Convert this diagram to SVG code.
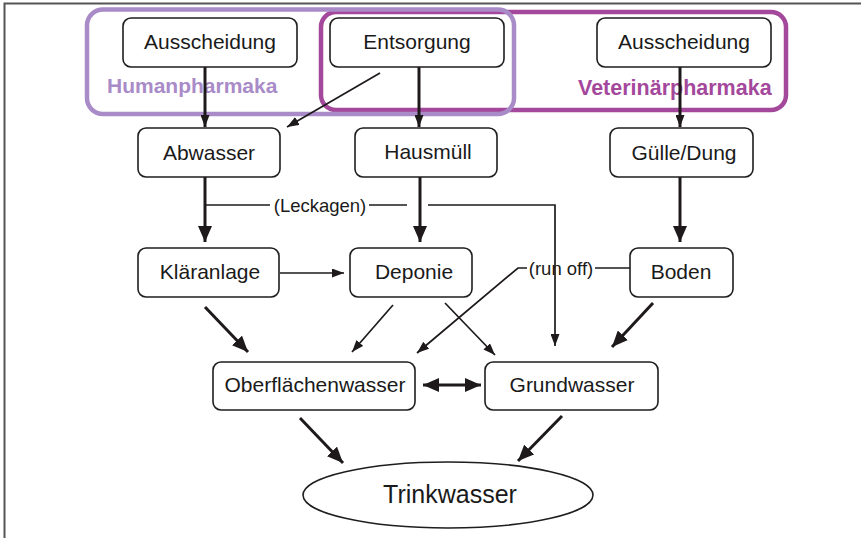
<svg xmlns="http://www.w3.org/2000/svg" width="861" height="538" viewBox="0 0 861 538">
  <style>
    .node rect, .node ellipse { fill: #ffffff; stroke: #1e1e1e; stroke-width: 1.6; }
    .node text { font-family: "Liberation Sans", Arial, sans-serif; font-size: 21px; fill: #1a1a1a; text-anchor: middle; }
    .thick { stroke: #1e1a1b; stroke-width: 3; fill: none; }
    .thin { stroke: #1e1a1b; stroke-width: 1.7; fill: none; }
    .lbl { font-family: "Liberation Sans", Arial, sans-serif; font-size: 18.5px; fill: #1a1a1a; text-anchor: middle; }
    .grp { font-family: "Liberation Sans", Arial, sans-serif; font-size: 21px; font-weight: bold; }
  </style>
  <defs>
    <marker id="big" markerUnits="userSpaceOnUse" markerWidth="16" markerHeight="14" viewBox="0 0 16 14" refX="16" refY="7" orient="auto">
      <path d="M0,0 L16,7 L0,14 Z" fill="#1e1a1b"/>
    </marker>
    <marker id="bigStart" markerUnits="userSpaceOnUse" markerWidth="16" markerHeight="14" viewBox="0 0 16 14" refX="0" refY="7" orient="auto">
      <path d="M16,0 L0,7 L16,14 Z" fill="#1e1a1b"/>
    </marker>
    <marker id="small" markerUnits="userSpaceOnUse" markerWidth="12" markerHeight="9" viewBox="0 0 12 9" refX="12" refY="4.5" orient="auto">
      <path d="M0,0 L12,4.5 L0,9 Z" fill="#1e1a1b"/>
    </marker>
  </defs>

  <rect x="0" y="0" width="861" height="538" fill="#ffffff"/>
  <!-- page frame -->
  <path d="M4.5,538 V3.5 H861" fill="none" stroke="#555555" stroke-width="2"/>

  <!-- grouping frames -->
  <g id="veterinaer">
    <rect x="321" y="12" width="465" height="98" rx="15" fill="none" stroke="#a4489c" stroke-width="4.5"/>
    <text class="grp" x="578" y="95" fill="#a4489c" style="font-size:21.5px">Veterinärpharmaka</text>
  </g>
  <g id="human">
    <rect x="87" y="9.5" width="427" height="104.5" rx="16" fill="none" stroke="#a98bc8" stroke-width="4.5"/>
    <text class="grp" x="107" y="93" fill="#a98bc8">Humanpharmaka</text>
  </g>

  <!-- connectors -->
  <g id="connectors">
    <path class="thick" d="M205,67 V127" marker-end="url(#small)"/>
    <path class="thin" d="M380,73 L287,127" marker-end="url(#small)"/>
    <path class="thick" d="M419,67 V127" marker-end="url(#small)"/>
    <path class="thick" d="M680,67 V127" marker-end="url(#small)"/>

    <path class="thick" d="M205,177 V242" marker-end="url(#big)"/>
    <path class="thick" d="M420,177 V242" marker-end="url(#big)"/>
    <path class="thick" d="M680,177 V242" marker-end="url(#big)"/>

    <!-- (Leckagen) -->
    <path class="thin" d="M205,205 H270"/>
    <path class="thin" d="M369,205 H407"/>
    <path class="thin" d="M428,205 H555 V346" marker-end="url(#small)"/>
    <text class="lbl" x="320" y="211.5">(Leckagen)</text>

    <!-- (run off) -->
    <path class="thin" d="M527,268 H518 L417,353" marker-end="url(#small)"/>
    <path class="thin" d="M595,268 H630"/>
    <rect x="527" y="258" width="68" height="18" fill="#ffffff"/>
    <path class="thin" d="M555,258 V276"/>
    <text class="lbl" x="561" y="274.5">(run off)</text>

    <path class="thin" d="M280,273 H344" marker-end="url(#small)"/>

    <path class="thick" d="M205,307 L248,352" marker-end="url(#big)"/>
    <path class="thin" d="M393,305 L352,352" marker-end="url(#small)"/>
    <path class="thin" d="M445,303 L495,355" marker-end="url(#small)"/>
    <path class="thick" d="M653,303 L612,347" marker-end="url(#big)"/>

    <path class="thick" d="M423,385 H481" marker-start="url(#bigStart)" marker-end="url(#big)"/>

    <path class="thick" d="M300,418 L343,463" marker-end="url(#big)"/>
    <path class="thick" d="M562,416 L518,461" marker-end="url(#big)"/>
  </g>

  <!-- nodes -->
  <g id="ausscheidung-human" class="node">
    <rect x="123" y="18" width="174" height="49" rx="8"/>
    <text x="210" y="49">Ausscheidung</text>
  </g>
  <g id="entsorgung" class="node">
    <rect x="330" y="18" width="174" height="49" rx="8"/>
    <text x="417" y="49">Entsorgung</text>
  </g>
  <g id="ausscheidung-vet" class="node">
    <rect x="597" y="18" width="174" height="49" rx="8"/>
    <text x="684" y="49">Ausscheidung</text>
  </g>
  <g id="abwasser" class="node">
    <rect x="138" y="128" width="142" height="49" rx="8"/>
    <text x="209" y="160">Abwasser</text>
  </g>
  <g id="hausmuell" class="node">
    <rect x="355" y="128" width="142" height="49" rx="8"/>
    <text x="428" y="159">Hausmüll</text>
  </g>
  <g id="guelle" class="node">
    <rect x="610" y="128" width="143" height="49" rx="8"/>
    <text x="684" y="160">Gülle/Dung</text>
  </g>
  <g id="klaeranlage" class="node">
    <rect x="138" y="248" width="141" height="49" rx="8"/>
    <text x="210" y="279">Kläranlage</text>
  </g>
  <g id="deponie" class="node">
    <rect x="350" y="248" width="122" height="49" rx="8"/>
    <text x="414" y="279">Deponie</text>
  </g>
  <g id="boden" class="node">
    <rect x="630" y="248" width="103" height="49" rx="8"/>
    <text x="681" y="279">Boden</text>
  </g>
  <g id="oberflaechenwasser" class="node">
    <rect x="213" y="362" width="202" height="48" rx="8"/>
    <text x="315" y="392">Oberflächenwasser</text>
  </g>
  <g id="grundwasser" class="node">
    <rect x="485" y="362" width="173" height="48" rx="8"/>
    <text x="572" y="392">Grundwasser</text>
  </g>
  <g id="trinkwasser" class="node">
    <ellipse cx="448" cy="495" rx="145" ry="33"/>
    <text x="450" y="503" style="font-size:25px">Trinkwasser</text>
  </g>
</svg>
